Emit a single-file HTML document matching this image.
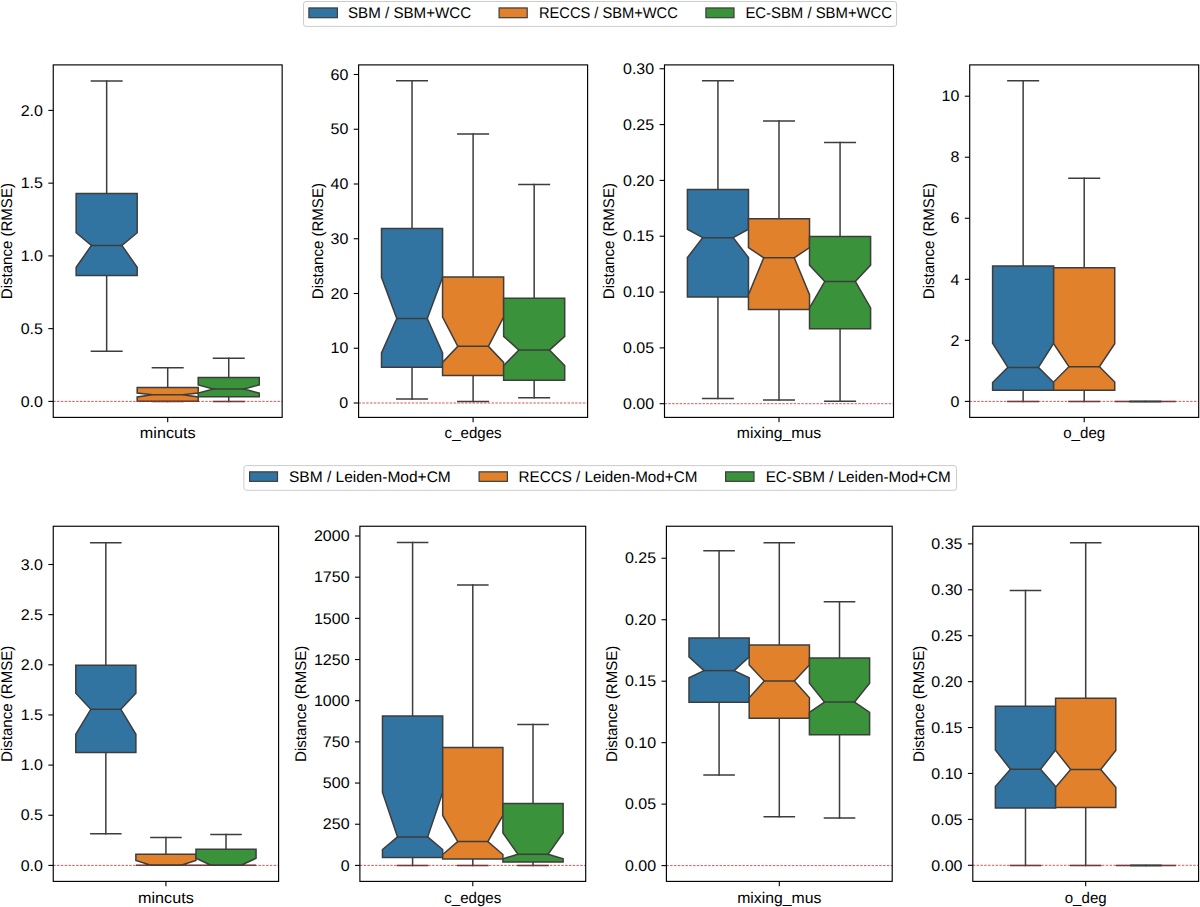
<!DOCTYPE html><html><head><meta charset="utf-8"><style>html,body{margin:0;padding:0;background:#fff;width:1200px;height:907px;overflow:hidden}svg{display:block}text{font-family:"Liberation Sans",sans-serif;font-size:15.4px;fill:#000;text-rendering:geometricPrecision}</style></head><body>
<svg width="1200" height="907" viewBox="0 0 1200 907">
<rect x="303.5" y="1.5" width="593.10" height="24.90" rx="2.5" fill="#fff" stroke="#cccccc" stroke-width="1"/><rect x="308.9" y="7.95" width="28.50" height="9.75" fill="#3274a1" stroke="#3d3d3d" stroke-width="1.2"/><text x="348.00" y="18.00" text-anchor="start" textLength="123.12" lengthAdjust="spacingAndGlyphs">SBM / SBM+WCC</text><rect x="499.1" y="7.95" width="28.10" height="9.75" fill="#e1812c" stroke="#3d3d3d" stroke-width="1.2"/><text x="539.00" y="18.00" text-anchor="start" textLength="138.78" lengthAdjust="spacingAndGlyphs">RECCS / SBM+WCC</text><rect x="705.9" y="7.95" width="28.10" height="9.75" fill="#3a923a" stroke="#3d3d3d" stroke-width="1.2"/><text x="745.40" y="18.00" text-anchor="start" textLength="146.71" lengthAdjust="spacingAndGlyphs">EC-SBM / SBM+WCC</text>
<rect x="243.9" y="465.6" width="712.60" height="24.70" rx="2.5" fill="#fff" stroke="#cccccc" stroke-width="1"/><rect x="249.6" y="471.85" width="27.90" height="9.50" fill="#3274a1" stroke="#3d3d3d" stroke-width="1.2"/><text x="289.00" y="481.80" text-anchor="start" textLength="161.80" lengthAdjust="spacingAndGlyphs">SBM / Leiden-Mod+CM</text><rect x="479.1" y="471.85" width="28.30" height="9.50" fill="#e1812c" stroke="#3d3d3d" stroke-width="1.2"/><text x="518.60" y="481.80" text-anchor="start" textLength="178.73" lengthAdjust="spacingAndGlyphs">RECCS / Leiden-Mod+CM</text><rect x="725.6" y="471.85" width="28.40" height="9.50" fill="#3a923a" stroke="#3d3d3d" stroke-width="1.2"/><text x="765.70" y="481.80" text-anchor="start" textLength="185.01" lengthAdjust="spacingAndGlyphs">EC-SBM / Leiden-Mod+CM</text>
<path d="M106.66 275.40V351.20M106.66 193.60V81.00" stroke="#3d3d3d" stroke-width="1.5" fill="none" stroke-linecap="square"/><path d="M91.40 351.20H121.92M91.40 81.00H121.92" stroke="#3d3d3d" stroke-width="1.5" fill="none" stroke-linecap="square"/><path d="M76.14 275.40L137.18 275.40L137.18 267.30L121.92 245.50L137.18 232.70L137.18 193.60L76.14 193.60L76.14 232.70L91.40 245.50L76.14 267.30Z" fill="#3274a1" stroke="#3d3d3d" stroke-width="1.5" stroke-linejoin="miter"/><path d="M167.70 401.20V401.40M167.70 387.50V367.80" stroke="#3d3d3d" stroke-width="1.5" fill="none" stroke-linecap="square"/><path d="M152.44 401.40H182.96M152.44 367.80H182.96" stroke="#3d3d3d" stroke-width="1.5" fill="none" stroke-linecap="square"/><path d="M137.18 401.20L198.22 401.20L198.22 396.90L182.96 394.80L198.22 393.10L198.22 387.50L137.18 387.50L137.18 393.10L152.44 394.80L137.18 396.90Z" fill="#e1812c" stroke="#3d3d3d" stroke-width="1.5" stroke-linejoin="miter"/><path d="M228.74 396.80V401.40M228.74 377.60V358.30" stroke="#3d3d3d" stroke-width="1.5" fill="none" stroke-linecap="square"/><path d="M213.48 401.40H244.00M213.48 358.30H244.00" stroke="#3d3d3d" stroke-width="1.5" fill="none" stroke-linecap="square"/><path d="M198.22 396.80L259.26 396.80L259.26 393.10L244.00 389.00L259.26 384.90L259.26 377.60L198.22 377.60L198.22 384.90L213.48 389.00L198.22 393.10Z" fill="#3a923a" stroke="#3d3d3d" stroke-width="1.5" stroke-linejoin="miter"/><path d="M53.25 401.40H282.15" stroke="#d42a2a" stroke-width="0.8" stroke-dasharray="2.45 1.35" fill="none"/><path d="M91.40 245.50H121.92" stroke="#3d3d3d" stroke-width="1.5" stroke-linecap="square"/><path d="M152.44 394.80H182.96" stroke="#3d3d3d" stroke-width="1.5" stroke-linecap="square"/><path d="M213.48 389.00H244.00" stroke="#3d3d3d" stroke-width="1.5" stroke-linecap="square"/><rect x="53.25" y="64.90" width="228.90" height="352.50" fill="none" stroke="#000" stroke-width="1.15"/><path d="M48.35 401.40H53.25" stroke="#000" stroke-width="1.1"/><text x="42.95" y="406.60" text-anchor="end" textLength="22.26" lengthAdjust="spacingAndGlyphs">0.0</text><path d="M48.35 328.65H53.25" stroke="#000" stroke-width="1.1"/><text x="42.95" y="333.85" text-anchor="end" textLength="22.26" lengthAdjust="spacingAndGlyphs">0.5</text><path d="M48.35 255.90H53.25" stroke="#000" stroke-width="1.1"/><text x="42.95" y="261.10" text-anchor="end" textLength="22.26" lengthAdjust="spacingAndGlyphs">1.0</text><path d="M48.35 183.15H53.25" stroke="#000" stroke-width="1.1"/><text x="42.95" y="188.35" text-anchor="end" textLength="22.26" lengthAdjust="spacingAndGlyphs">1.5</text><path d="M48.35 110.40H53.25" stroke="#000" stroke-width="1.1"/><text x="42.95" y="115.60" text-anchor="end" textLength="22.26" lengthAdjust="spacingAndGlyphs">2.0</text><path d="M167.70 417.40V422.30" stroke="#000" stroke-width="1.1"/><text x="167.70" y="437.90" text-anchor="middle" textLength="55.75" lengthAdjust="spacingAndGlyphs">mincuts</text><text x="0.00" y="0.00" text-anchor="middle" textLength="116.13" lengthAdjust="spacingAndGlyphs" transform="translate(12.00 241.15) rotate(-90)">Distance (RMSE)</text>
<path d="M412.03 367.30V399.00M412.03 228.40V80.75" stroke="#3d3d3d" stroke-width="1.5" fill="none" stroke-linecap="square"/><path d="M396.77 399.00H427.30M396.77 80.75H427.30" stroke="#3d3d3d" stroke-width="1.5" fill="none" stroke-linecap="square"/><path d="M381.50 367.30L442.57 367.30L442.57 352.90L427.30 318.50L442.57 277.30L442.57 228.40L381.50 228.40L381.50 277.30L396.77 318.50L381.50 352.90Z" fill="#3274a1" stroke="#3d3d3d" stroke-width="1.5" stroke-linejoin="miter"/><path d="M473.10 375.40V401.40M473.10 276.90V134.00" stroke="#3d3d3d" stroke-width="1.5" fill="none" stroke-linecap="square"/><path d="M457.83 401.40H488.37M457.83 134.00H488.37" stroke="#3d3d3d" stroke-width="1.5" fill="none" stroke-linecap="square"/><path d="M442.57 375.40L503.63 375.40L503.63 362.40L488.37 346.30L503.63 317.00L503.63 276.90L442.57 276.90L442.57 317.00L457.83 346.30L442.57 362.40Z" fill="#e1812c" stroke="#3d3d3d" stroke-width="1.5" stroke-linejoin="miter"/><path d="M534.17 380.20V397.70M534.17 298.30V184.50" stroke="#3d3d3d" stroke-width="1.5" fill="none" stroke-linecap="square"/><path d="M518.90 397.70H549.43M518.90 184.50H549.43" stroke="#3d3d3d" stroke-width="1.5" fill="none" stroke-linecap="square"/><path d="M503.63 380.20L564.70 380.20L564.70 365.50L549.43 350.10L564.70 336.40L564.70 298.30L503.63 298.30L503.63 336.40L518.90 350.10L503.63 365.50Z" fill="#3a923a" stroke="#3d3d3d" stroke-width="1.5" stroke-linejoin="miter"/><path d="M358.60 403.00H587.60" stroke="#d42a2a" stroke-width="0.8" stroke-dasharray="2.45 1.35" fill="none"/><path d="M396.77 318.50H427.30" stroke="#3d3d3d" stroke-width="1.5" stroke-linecap="square"/><path d="M457.83 346.30H488.37" stroke="#3d3d3d" stroke-width="1.5" stroke-linecap="square"/><path d="M518.90 350.10H549.43" stroke="#3d3d3d" stroke-width="1.5" stroke-linecap="square"/><rect x="358.60" y="64.90" width="229.00" height="352.50" fill="none" stroke="#000" stroke-width="1.15"/><path d="M353.70 403.00H358.60" stroke="#000" stroke-width="1.1"/><text x="348.30" y="408.20" text-anchor="end" textLength="8.91" lengthAdjust="spacingAndGlyphs">0</text><path d="M353.70 348.25H358.60" stroke="#000" stroke-width="1.1"/><text x="348.30" y="353.45" text-anchor="end" textLength="17.81" lengthAdjust="spacingAndGlyphs">10</text><path d="M353.70 293.50H358.60" stroke="#000" stroke-width="1.1"/><text x="348.30" y="298.70" text-anchor="end" textLength="17.81" lengthAdjust="spacingAndGlyphs">20</text><path d="M353.70 238.75H358.60" stroke="#000" stroke-width="1.1"/><text x="348.30" y="243.95" text-anchor="end" textLength="17.81" lengthAdjust="spacingAndGlyphs">30</text><path d="M353.70 184.00H358.60" stroke="#000" stroke-width="1.1"/><text x="348.30" y="189.20" text-anchor="end" textLength="17.81" lengthAdjust="spacingAndGlyphs">40</text><path d="M353.70 129.25H358.60" stroke="#000" stroke-width="1.1"/><text x="348.30" y="134.45" text-anchor="end" textLength="17.81" lengthAdjust="spacingAndGlyphs">50</text><path d="M353.70 74.50H358.60" stroke="#000" stroke-width="1.1"/><text x="348.30" y="79.70" text-anchor="end" textLength="17.81" lengthAdjust="spacingAndGlyphs">60</text><path d="M473.10 417.40V422.30" stroke="#000" stroke-width="1.1"/><text x="473.10" y="437.90" text-anchor="middle" textLength="56.99" lengthAdjust="spacingAndGlyphs">c_edges</text><text x="0.00" y="0.00" text-anchor="middle" textLength="116.13" lengthAdjust="spacingAndGlyphs" transform="translate(322.70 241.15) rotate(-90)">Distance (RMSE)</text>
<path d="M717.93 297.00V398.40M717.93 189.50V80.75" stroke="#3d3d3d" stroke-width="1.5" fill="none" stroke-linecap="square"/><path d="M702.67 398.40H733.20M702.67 80.75H733.20" stroke="#3d3d3d" stroke-width="1.5" fill="none" stroke-linecap="square"/><path d="M687.40 297.00L748.47 297.00L748.47 257.60L733.20 237.70L748.47 229.20L748.47 189.50L687.40 189.50L687.40 229.20L702.67 237.70L687.40 257.60Z" fill="#3274a1" stroke="#3d3d3d" stroke-width="1.5" stroke-linejoin="miter"/><path d="M779.00 309.50V400.00M779.00 218.70V121.00" stroke="#3d3d3d" stroke-width="1.5" fill="none" stroke-linecap="square"/><path d="M763.73 400.00H794.27M763.73 121.00H794.27" stroke="#3d3d3d" stroke-width="1.5" fill="none" stroke-linecap="square"/><path d="M748.47 309.50L809.53 309.50L809.53 294.60L794.27 257.80L809.53 247.50L809.53 218.70L748.47 218.70L748.47 247.50L763.73 257.80L748.47 294.60Z" fill="#e1812c" stroke="#3d3d3d" stroke-width="1.5" stroke-linejoin="miter"/><path d="M840.07 328.80V401.30M840.07 236.40V142.50" stroke="#3d3d3d" stroke-width="1.5" fill="none" stroke-linecap="square"/><path d="M824.80 401.30H855.33M824.80 142.50H855.33" stroke="#3d3d3d" stroke-width="1.5" fill="none" stroke-linecap="square"/><path d="M809.53 328.80L870.60 328.80L870.60 307.90L855.33 281.40L870.60 265.30L870.60 236.40L809.53 236.40L809.53 265.30L824.80 281.40L809.53 307.90Z" fill="#3a923a" stroke="#3d3d3d" stroke-width="1.5" stroke-linejoin="miter"/><path d="M664.50 403.70H893.50" stroke="#d42a2a" stroke-width="0.8" stroke-dasharray="2.45 1.35" fill="none"/><path d="M702.67 237.70H733.20" stroke="#3d3d3d" stroke-width="1.5" stroke-linecap="square"/><path d="M763.73 257.80H794.27" stroke="#3d3d3d" stroke-width="1.5" stroke-linecap="square"/><path d="M824.80 281.40H855.33" stroke="#3d3d3d" stroke-width="1.5" stroke-linecap="square"/><rect x="664.50" y="64.90" width="229.00" height="352.50" fill="none" stroke="#000" stroke-width="1.15"/><path d="M659.60 403.70H664.50" stroke="#000" stroke-width="1.1"/><text x="654.20" y="408.90" text-anchor="end" textLength="31.17" lengthAdjust="spacingAndGlyphs">0.00</text><path d="M659.60 347.88H664.50" stroke="#000" stroke-width="1.1"/><text x="654.20" y="353.07" text-anchor="end" textLength="31.17" lengthAdjust="spacingAndGlyphs">0.05</text><path d="M659.60 292.05H664.50" stroke="#000" stroke-width="1.1"/><text x="654.20" y="297.25" text-anchor="end" textLength="31.17" lengthAdjust="spacingAndGlyphs">0.10</text><path d="M659.60 236.22H664.50" stroke="#000" stroke-width="1.1"/><text x="654.20" y="241.42" text-anchor="end" textLength="31.17" lengthAdjust="spacingAndGlyphs">0.15</text><path d="M659.60 180.40H664.50" stroke="#000" stroke-width="1.1"/><text x="654.20" y="185.60" text-anchor="end" textLength="31.17" lengthAdjust="spacingAndGlyphs">0.20</text><path d="M659.60 124.57H664.50" stroke="#000" stroke-width="1.1"/><text x="654.20" y="129.77" text-anchor="end" textLength="31.17" lengthAdjust="spacingAndGlyphs">0.25</text><path d="M659.60 68.75H664.50" stroke="#000" stroke-width="1.1"/><text x="654.20" y="73.95" text-anchor="end" textLength="31.17" lengthAdjust="spacingAndGlyphs">0.30</text><path d="M779.00 417.40V422.30" stroke="#000" stroke-width="1.1"/><text x="779.00" y="437.90" text-anchor="middle" textLength="84.27" lengthAdjust="spacingAndGlyphs">mixing_mus</text><text x="0.00" y="0.00" text-anchor="middle" textLength="116.13" lengthAdjust="spacingAndGlyphs" transform="translate(614.30 241.15) rotate(-90)">Distance (RMSE)</text>
<path d="M1023.13 390.30V401.40M1023.13 266.00V80.75" stroke="#3d3d3d" stroke-width="1.5" fill="none" stroke-linecap="square"/><path d="M1007.87 401.40H1038.40M1007.87 80.75H1038.40" stroke="#3d3d3d" stroke-width="1.5" fill="none" stroke-linecap="square"/><path d="M992.60 390.30L1053.67 390.30L1053.67 382.50L1038.40 367.40L1053.67 343.20L1053.67 266.00L992.60 266.00L992.60 343.20L1007.87 367.40L992.60 382.50Z" fill="#3274a1" stroke="#3d3d3d" stroke-width="1.5" stroke-linejoin="miter"/><path d="M1084.20 390.30V401.40M1084.20 267.70V178.25" stroke="#3d3d3d" stroke-width="1.5" fill="none" stroke-linecap="square"/><path d="M1068.93 401.40H1099.47M1068.93 178.25H1099.47" stroke="#3d3d3d" stroke-width="1.5" fill="none" stroke-linecap="square"/><path d="M1053.67 390.30L1114.73 390.30L1114.73 382.00L1099.47 366.70L1114.73 343.70L1114.73 267.70L1053.67 267.70L1053.67 343.70L1068.93 366.70L1053.67 382.00Z" fill="#e1812c" stroke="#3d3d3d" stroke-width="1.5" stroke-linejoin="miter"/><path d="M1145.27 401.40V401.40M1145.27 401.40V401.40" stroke="#3d3d3d" stroke-width="1.5" fill="none" stroke-linecap="square"/><path d="M1130.00 401.40H1160.53M1130.00 401.40H1160.53" stroke="#3d3d3d" stroke-width="1.5" fill="none" stroke-linecap="square"/><path d="M1114.73 401.40L1175.80 401.40L1175.80 401.40L1160.53 401.40L1175.80 401.40L1175.80 401.40L1114.73 401.40L1114.73 401.40L1130.00 401.40L1114.73 401.40Z" fill="#3a923a" stroke="#3d3d3d" stroke-width="1.5" stroke-linejoin="miter"/><path d="M969.70 401.40H1198.70" stroke="#d42a2a" stroke-width="0.8" stroke-dasharray="2.45 1.35" fill="none"/><path d="M1007.87 367.40H1038.40" stroke="#3d3d3d" stroke-width="1.5" stroke-linecap="square"/><path d="M1068.93 366.70H1099.47" stroke="#3d3d3d" stroke-width="1.5" stroke-linecap="square"/><path d="M1130.00 401.40H1160.53" stroke="#3d3d3d" stroke-width="1.5" stroke-linecap="square"/><rect x="969.70" y="64.90" width="229.00" height="352.50" fill="none" stroke="#000" stroke-width="1.15"/><path d="M964.80 401.40H969.70" stroke="#000" stroke-width="1.1"/><text x="959.40" y="406.60" text-anchor="end" textLength="8.91" lengthAdjust="spacingAndGlyphs">0</text><path d="M964.80 340.36H969.70" stroke="#000" stroke-width="1.1"/><text x="959.40" y="345.56" text-anchor="end" textLength="8.91" lengthAdjust="spacingAndGlyphs">2</text><path d="M964.80 279.32H969.70" stroke="#000" stroke-width="1.1"/><text x="959.40" y="284.52" text-anchor="end" textLength="8.91" lengthAdjust="spacingAndGlyphs">4</text><path d="M964.80 218.28H969.70" stroke="#000" stroke-width="1.1"/><text x="959.40" y="223.48" text-anchor="end" textLength="8.91" lengthAdjust="spacingAndGlyphs">6</text><path d="M964.80 157.24H969.70" stroke="#000" stroke-width="1.1"/><text x="959.40" y="162.44" text-anchor="end" textLength="8.91" lengthAdjust="spacingAndGlyphs">8</text><path d="M964.80 96.20H969.70" stroke="#000" stroke-width="1.1"/><text x="959.40" y="101.40" text-anchor="end" textLength="17.81" lengthAdjust="spacingAndGlyphs">10</text><path d="M1084.20 417.40V422.30" stroke="#000" stroke-width="1.1"/><text x="1084.20" y="437.90" text-anchor="middle" textLength="41.95" lengthAdjust="spacingAndGlyphs">o_deg</text><text x="0.00" y="0.00" text-anchor="middle" textLength="116.13" lengthAdjust="spacingAndGlyphs" transform="translate(933.90 241.15) rotate(-90)">Distance (RMSE)</text>
<path d="M105.83 752.60V833.80M105.83 665.30V542.75" stroke="#3d3d3d" stroke-width="1.5" fill="none" stroke-linecap="square"/><path d="M90.81 833.80H120.86M90.81 542.75H120.86" stroke="#3d3d3d" stroke-width="1.5" fill="none" stroke-linecap="square"/><path d="M75.79 752.60L135.88 752.60L135.88 734.30L120.86 709.30L135.88 693.25L135.88 665.30L75.79 665.30L75.79 693.25L90.81 709.30L75.79 734.30Z" fill="#3274a1" stroke="#3d3d3d" stroke-width="1.5" stroke-linejoin="miter"/><path d="M165.93 865.20V865.20M165.93 854.20V837.40" stroke="#3d3d3d" stroke-width="1.5" fill="none" stroke-linecap="square"/><path d="M150.90 865.20H180.95M150.90 837.40H180.95" stroke="#3d3d3d" stroke-width="1.5" fill="none" stroke-linecap="square"/><path d="M135.88 865.20L195.97 865.20L195.97 865.20L180.95 865.20L195.97 860.40L195.97 854.20L135.88 854.20L135.88 860.40L150.90 865.20L135.88 865.20Z" fill="#e1812c" stroke="#3d3d3d" stroke-width="1.5" stroke-linejoin="miter"/><path d="M226.02 865.20V865.20M226.02 849.30V834.40" stroke="#3d3d3d" stroke-width="1.5" fill="none" stroke-linecap="square"/><path d="M211.00 865.20H241.04M211.00 834.40H241.04" stroke="#3d3d3d" stroke-width="1.5" fill="none" stroke-linecap="square"/><path d="M195.97 865.20L256.06 865.20L256.06 865.20L241.04 865.20L256.06 858.30L256.06 849.30L195.97 849.30L195.97 858.30L211.00 865.20L195.97 865.20Z" fill="#3a923a" stroke="#3d3d3d" stroke-width="1.5" stroke-linejoin="miter"/><path d="M53.25 865.40H278.60" stroke="#d42a2a" stroke-width="0.8" stroke-dasharray="2.45 1.35" fill="none"/><path d="M90.81 709.30H120.86" stroke="#3d3d3d" stroke-width="1.5" stroke-linecap="square"/><path d="M150.90 865.20H180.95" stroke="#3d3d3d" stroke-width="1.5" stroke-linecap="square"/><path d="M211.00 865.20H241.04" stroke="#3d3d3d" stroke-width="1.5" stroke-linecap="square"/><rect x="53.25" y="526.25" width="225.35" height="355.15" fill="none" stroke="#000" stroke-width="1.15"/><path d="M48.35 865.40H53.25" stroke="#000" stroke-width="1.1"/><text x="42.95" y="870.60" text-anchor="end" textLength="22.26" lengthAdjust="spacingAndGlyphs">0.0</text><path d="M48.35 815.25H53.25" stroke="#000" stroke-width="1.1"/><text x="42.95" y="820.45" text-anchor="end" textLength="22.26" lengthAdjust="spacingAndGlyphs">0.5</text><path d="M48.35 765.10H53.25" stroke="#000" stroke-width="1.1"/><text x="42.95" y="770.30" text-anchor="end" textLength="22.26" lengthAdjust="spacingAndGlyphs">1.0</text><path d="M48.35 714.95H53.25" stroke="#000" stroke-width="1.1"/><text x="42.95" y="720.15" text-anchor="end" textLength="22.26" lengthAdjust="spacingAndGlyphs">1.5</text><path d="M48.35 664.80H53.25" stroke="#000" stroke-width="1.1"/><text x="42.95" y="670.00" text-anchor="end" textLength="22.26" lengthAdjust="spacingAndGlyphs">2.0</text><path d="M48.35 614.65H53.25" stroke="#000" stroke-width="1.1"/><text x="42.95" y="619.85" text-anchor="end" textLength="22.26" lengthAdjust="spacingAndGlyphs">2.5</text><path d="M48.35 564.50H53.25" stroke="#000" stroke-width="1.1"/><text x="42.95" y="569.70" text-anchor="end" textLength="22.26" lengthAdjust="spacingAndGlyphs">3.0</text><path d="M165.93 881.40V886.30" stroke="#000" stroke-width="1.1"/><text x="165.93" y="902.50" text-anchor="middle" textLength="55.75" lengthAdjust="spacingAndGlyphs">mincuts</text><text x="0.00" y="0.00" text-anchor="middle" textLength="116.13" lengthAdjust="spacingAndGlyphs" transform="translate(12.40 703.83) rotate(-90)">Distance (RMSE)</text>
<path d="M412.59 857.50V865.40M412.59 716.10V542.60" stroke="#3d3d3d" stroke-width="1.5" fill="none" stroke-linecap="square"/><path d="M397.53 865.40H427.64M397.53 542.60H427.64" stroke="#3d3d3d" stroke-width="1.5" fill="none" stroke-linecap="square"/><path d="M382.48 857.50L442.69 857.50L442.69 849.50L427.64 836.90L442.69 792.50L442.69 716.10L382.48 716.10L382.48 792.50L397.53 836.90L382.48 849.50Z" fill="#3274a1" stroke="#3d3d3d" stroke-width="1.5" stroke-linejoin="miter"/><path d="M472.80 858.90V865.40M472.80 747.60V585.10" stroke="#3d3d3d" stroke-width="1.5" fill="none" stroke-linecap="square"/><path d="M457.75 865.40H487.85M457.75 585.10H487.85" stroke="#3d3d3d" stroke-width="1.5" fill="none" stroke-linecap="square"/><path d="M442.69 858.90L502.91 858.90L502.91 854.50L487.85 841.50L502.91 815.50L502.91 747.60L442.69 747.60L442.69 815.50L457.75 841.50L442.69 854.50Z" fill="#e1812c" stroke="#3d3d3d" stroke-width="1.5" stroke-linejoin="miter"/><path d="M533.01 862.10V865.40M533.01 803.60V724.60" stroke="#3d3d3d" stroke-width="1.5" fill="none" stroke-linecap="square"/><path d="M517.96 865.40H548.07M517.96 724.60H548.07" stroke="#3d3d3d" stroke-width="1.5" fill="none" stroke-linecap="square"/><path d="M502.91 862.10L563.12 862.10L563.12 858.70L548.07 854.30L563.12 833.00L563.12 803.60L502.91 803.60L502.91 833.00L517.96 854.30L502.91 858.70Z" fill="#3a923a" stroke="#3d3d3d" stroke-width="1.5" stroke-linejoin="miter"/><path d="M359.90 865.40H585.70" stroke="#d42a2a" stroke-width="0.8" stroke-dasharray="2.45 1.35" fill="none"/><path d="M397.53 836.90H427.64" stroke="#3d3d3d" stroke-width="1.5" stroke-linecap="square"/><path d="M457.75 841.50H487.85" stroke="#3d3d3d" stroke-width="1.5" stroke-linecap="square"/><path d="M517.96 854.30H548.07" stroke="#3d3d3d" stroke-width="1.5" stroke-linecap="square"/><rect x="359.90" y="526.25" width="225.80" height="355.15" fill="none" stroke="#000" stroke-width="1.15"/><path d="M355.00 865.40H359.90" stroke="#000" stroke-width="1.1"/><text x="349.60" y="870.60" text-anchor="end" textLength="8.91" lengthAdjust="spacingAndGlyphs">0</text><path d="M355.00 824.23H359.90" stroke="#000" stroke-width="1.1"/><text x="349.60" y="829.43" text-anchor="end" textLength="26.72" lengthAdjust="spacingAndGlyphs">250</text><path d="M355.00 783.05H359.90" stroke="#000" stroke-width="1.1"/><text x="349.60" y="788.25" text-anchor="end" textLength="26.72" lengthAdjust="spacingAndGlyphs">500</text><path d="M355.00 741.88H359.90" stroke="#000" stroke-width="1.1"/><text x="349.60" y="747.08" text-anchor="end" textLength="26.72" lengthAdjust="spacingAndGlyphs">750</text><path d="M355.00 700.70H359.90" stroke="#000" stroke-width="1.1"/><text x="349.60" y="705.90" text-anchor="end" textLength="35.63" lengthAdjust="spacingAndGlyphs">1000</text><path d="M355.00 659.52H359.90" stroke="#000" stroke-width="1.1"/><text x="349.60" y="664.73" text-anchor="end" textLength="35.63" lengthAdjust="spacingAndGlyphs">1250</text><path d="M355.00 618.35H359.90" stroke="#000" stroke-width="1.1"/><text x="349.60" y="623.55" text-anchor="end" textLength="35.63" lengthAdjust="spacingAndGlyphs">1500</text><path d="M355.00 577.17H359.90" stroke="#000" stroke-width="1.1"/><text x="349.60" y="582.38" text-anchor="end" textLength="35.63" lengthAdjust="spacingAndGlyphs">1750</text><path d="M355.00 536.00H359.90" stroke="#000" stroke-width="1.1"/><text x="349.60" y="541.20" text-anchor="end" textLength="35.63" lengthAdjust="spacingAndGlyphs">2000</text><path d="M472.80 881.40V886.30" stroke="#000" stroke-width="1.1"/><text x="472.80" y="902.50" text-anchor="middle" textLength="56.99" lengthAdjust="spacingAndGlyphs">c_edges</text><text x="0.00" y="0.00" text-anchor="middle" textLength="116.13" lengthAdjust="spacingAndGlyphs" transform="translate(305.70 703.83) rotate(-90)">Distance (RMSE)</text>
<path d="M719.09 702.20V775.10M719.09 638.00V550.75" stroke="#3d3d3d" stroke-width="1.5" fill="none" stroke-linecap="square"/><path d="M704.03 775.10H734.14M704.03 550.75H734.14" stroke="#3d3d3d" stroke-width="1.5" fill="none" stroke-linecap="square"/><path d="M688.98 702.20L749.19 702.20L749.19 677.70L734.14 670.60L749.19 656.80L749.19 638.00L688.98 638.00L688.98 656.80L704.03 670.60L688.98 677.70Z" fill="#3274a1" stroke="#3d3d3d" stroke-width="1.5" stroke-linejoin="miter"/><path d="M779.30 718.20V816.80M779.30 645.10V542.75" stroke="#3d3d3d" stroke-width="1.5" fill="none" stroke-linecap="square"/><path d="M764.25 816.80H794.35M764.25 542.75H794.35" stroke="#3d3d3d" stroke-width="1.5" fill="none" stroke-linecap="square"/><path d="M749.19 718.20L809.41 718.20L809.41 697.80L794.35 681.00L809.41 665.00L809.41 645.10L749.19 645.10L749.19 665.00L764.25 681.00L749.19 697.80Z" fill="#e1812c" stroke="#3d3d3d" stroke-width="1.5" stroke-linejoin="miter"/><path d="M839.51 734.80V818.00M839.51 658.00V601.75" stroke="#3d3d3d" stroke-width="1.5" fill="none" stroke-linecap="square"/><path d="M824.46 818.00H854.57M824.46 601.75H854.57" stroke="#3d3d3d" stroke-width="1.5" fill="none" stroke-linecap="square"/><path d="M809.41 734.80L869.62 734.80L869.62 712.30L854.57 702.10L869.62 683.30L869.62 658.00L809.41 658.00L809.41 683.30L824.46 702.10L809.41 712.30Z" fill="#3a923a" stroke="#3d3d3d" stroke-width="1.5" stroke-linejoin="miter"/><path d="M666.40 865.60H892.20" stroke="#d42a2a" stroke-width="0.8" stroke-dasharray="2.45 1.35" fill="none"/><path d="M704.03 670.60H734.14" stroke="#3d3d3d" stroke-width="1.5" stroke-linecap="square"/><path d="M764.25 681.00H794.35" stroke="#3d3d3d" stroke-width="1.5" stroke-linecap="square"/><path d="M824.46 702.10H854.57" stroke="#3d3d3d" stroke-width="1.5" stroke-linecap="square"/><rect x="666.40" y="526.25" width="225.80" height="355.15" fill="none" stroke="#000" stroke-width="1.15"/><path d="M661.50 865.60H666.40" stroke="#000" stroke-width="1.1"/><text x="656.10" y="870.80" text-anchor="end" textLength="31.17" lengthAdjust="spacingAndGlyphs">0.00</text><path d="M661.50 804.13H666.40" stroke="#000" stroke-width="1.1"/><text x="656.10" y="809.33" text-anchor="end" textLength="31.17" lengthAdjust="spacingAndGlyphs">0.05</text><path d="M661.50 742.66H666.40" stroke="#000" stroke-width="1.1"/><text x="656.10" y="747.86" text-anchor="end" textLength="31.17" lengthAdjust="spacingAndGlyphs">0.10</text><path d="M661.50 681.19H666.40" stroke="#000" stroke-width="1.1"/><text x="656.10" y="686.39" text-anchor="end" textLength="31.17" lengthAdjust="spacingAndGlyphs">0.15</text><path d="M661.50 619.72H666.40" stroke="#000" stroke-width="1.1"/><text x="656.10" y="624.92" text-anchor="end" textLength="31.17" lengthAdjust="spacingAndGlyphs">0.20</text><path d="M661.50 558.25H666.40" stroke="#000" stroke-width="1.1"/><text x="656.10" y="563.45" text-anchor="end" textLength="31.17" lengthAdjust="spacingAndGlyphs">0.25</text><path d="M779.30 881.40V886.30" stroke="#000" stroke-width="1.1"/><text x="779.30" y="902.50" text-anchor="middle" textLength="84.27" lengthAdjust="spacingAndGlyphs">mixing_mus</text><text x="0.00" y="0.00" text-anchor="middle" textLength="116.13" lengthAdjust="spacingAndGlyphs" transform="translate(617.00 703.83) rotate(-90)">Distance (RMSE)</text>
<path d="M1025.49 807.90V865.40M1025.49 706.30V590.50" stroke="#3d3d3d" stroke-width="1.5" fill="none" stroke-linecap="square"/><path d="M1010.43 865.40H1040.54M1010.43 590.50H1040.54" stroke="#3d3d3d" stroke-width="1.5" fill="none" stroke-linecap="square"/><path d="M995.38 807.90L1055.59 807.90L1055.59 786.50L1040.54 769.30L1055.59 750.00L1055.59 706.30L995.38 706.30L995.38 750.00L1010.43 769.30L995.38 786.50Z" fill="#3274a1" stroke="#3d3d3d" stroke-width="1.5" stroke-linejoin="miter"/><path d="M1085.70 807.60V865.40M1085.70 698.30V542.75" stroke="#3d3d3d" stroke-width="1.5" fill="none" stroke-linecap="square"/><path d="M1070.65 865.40H1100.75M1070.65 542.75H1100.75" stroke="#3d3d3d" stroke-width="1.5" fill="none" stroke-linecap="square"/><path d="M1055.59 807.60L1115.81 807.60L1115.81 787.20L1100.75 769.50L1115.81 750.40L1115.81 698.30L1055.59 698.30L1055.59 750.40L1070.65 769.50L1055.59 787.20Z" fill="#e1812c" stroke="#3d3d3d" stroke-width="1.5" stroke-linejoin="miter"/><path d="M1145.91 865.40V865.40M1145.91 865.40V865.40" stroke="#3d3d3d" stroke-width="1.5" fill="none" stroke-linecap="square"/><path d="M1130.86 865.40H1160.97M1130.86 865.40H1160.97" stroke="#3d3d3d" stroke-width="1.5" fill="none" stroke-linecap="square"/><path d="M1115.81 865.40L1176.02 865.40L1176.02 865.40L1160.97 865.40L1176.02 865.40L1176.02 865.40L1115.81 865.40L1115.81 865.40L1130.86 865.40L1115.81 865.40Z" fill="#3a923a" stroke="#3d3d3d" stroke-width="1.5" stroke-linejoin="miter"/><path d="M972.80 865.30H1198.60" stroke="#d42a2a" stroke-width="0.8" stroke-dasharray="2.45 1.35" fill="none"/><path d="M1010.43 769.30H1040.54" stroke="#3d3d3d" stroke-width="1.5" stroke-linecap="square"/><path d="M1070.65 769.50H1100.75" stroke="#3d3d3d" stroke-width="1.5" stroke-linecap="square"/><path d="M1130.86 865.40H1160.97" stroke="#3d3d3d" stroke-width="1.5" stroke-linecap="square"/><rect x="972.80" y="526.25" width="225.80" height="355.15" fill="none" stroke="#000" stroke-width="1.15"/><path d="M967.90 865.30H972.80" stroke="#000" stroke-width="1.1"/><text x="962.50" y="870.50" text-anchor="end" textLength="31.17" lengthAdjust="spacingAndGlyphs">0.00</text><path d="M967.90 819.38H972.80" stroke="#000" stroke-width="1.1"/><text x="962.50" y="824.58" text-anchor="end" textLength="31.17" lengthAdjust="spacingAndGlyphs">0.05</text><path d="M967.90 773.46H972.80" stroke="#000" stroke-width="1.1"/><text x="962.50" y="778.66" text-anchor="end" textLength="31.17" lengthAdjust="spacingAndGlyphs">0.10</text><path d="M967.90 727.54H972.80" stroke="#000" stroke-width="1.1"/><text x="962.50" y="732.74" text-anchor="end" textLength="31.17" lengthAdjust="spacingAndGlyphs">0.15</text><path d="M967.90 681.62H972.80" stroke="#000" stroke-width="1.1"/><text x="962.50" y="686.82" text-anchor="end" textLength="31.17" lengthAdjust="spacingAndGlyphs">0.20</text><path d="M967.90 635.70H972.80" stroke="#000" stroke-width="1.1"/><text x="962.50" y="640.90" text-anchor="end" textLength="31.17" lengthAdjust="spacingAndGlyphs">0.25</text><path d="M967.90 589.78H972.80" stroke="#000" stroke-width="1.1"/><text x="962.50" y="594.98" text-anchor="end" textLength="31.17" lengthAdjust="spacingAndGlyphs">0.30</text><path d="M967.90 543.86H972.80" stroke="#000" stroke-width="1.1"/><text x="962.50" y="549.06" text-anchor="end" textLength="31.17" lengthAdjust="spacingAndGlyphs">0.35</text><path d="M1085.70 881.40V886.30" stroke="#000" stroke-width="1.1"/><text x="1085.70" y="902.50" text-anchor="middle" textLength="41.95" lengthAdjust="spacingAndGlyphs">o_deg</text><text x="0.00" y="0.00" text-anchor="middle" textLength="116.13" lengthAdjust="spacingAndGlyphs" transform="translate(923.60 703.83) rotate(-90)">Distance (RMSE)</text>
</svg></body></html>
